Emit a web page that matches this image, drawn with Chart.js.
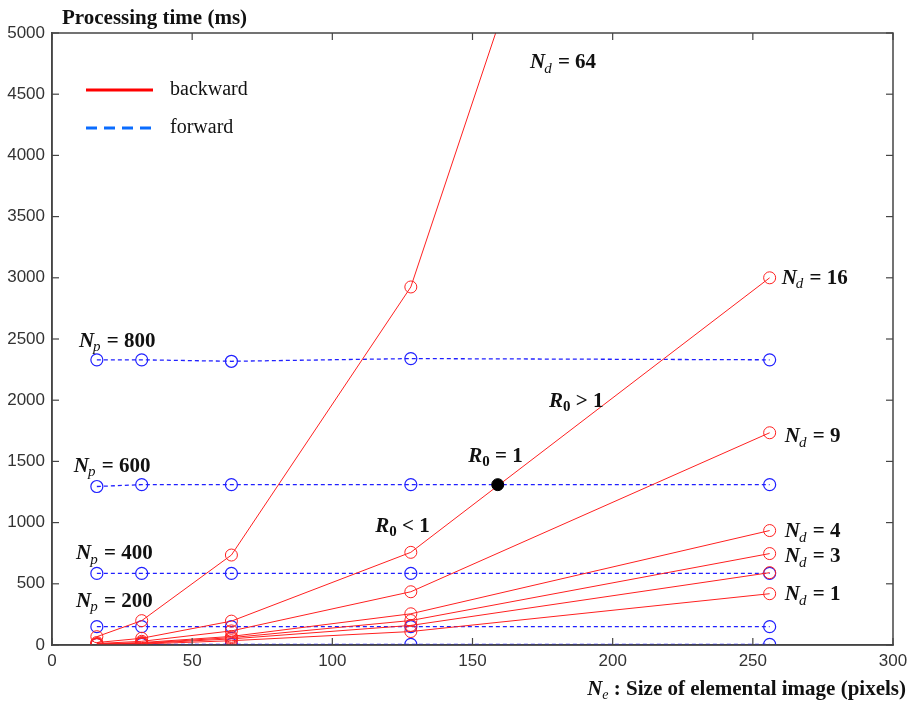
<!DOCTYPE html>
<html>
<head>
<meta charset="utf-8">
<script src="https://cdn.jsdelivr.net/npm/chart.js@4/dist/chart.umd.min.js"></script>
<style>
html,body{margin:0;padding:0;background:#fff;}
#wrap{position:relative;width:909px;height:707px;}
</style>
</head>
<body>
<div id="wrap"><canvas id="c" width="909" height="707"></canvas></div>
<script>
// Elemental image sizes (x)
const sizes = [16, 32, 64, 128, 256];
// Backward processing time (ms) per N_d
const backNd64 = [68, 199, 735, 2925, 11700];
const backNd16 = [20, 55, 195, 757, 3000];
const backNd9  = [12, 30, 115, 435, 1734];
const backNd4  = [8, 20, 70, 255, 935];
const backNd3  = [6, 15, 60, 200, 747];
const backNd2  = [5, 12, 50, 160, 591];
const backNd1  = [3, 8, 35, 110, 419];
// Forward processing time (ms) per N_p
const fwdNp800 = [2330, 2330, 2318, 2340, 2330];
const fwdNp600 = [1295, 1310, 1310, 1310, 1310];
const fwdNp400 = [585, 585, 585, 585, 585];
const fwdNp200 = [150, 150, 150, 150, 150];
const fwdNp0   = [5, 5, 5, 5, 5];
// R0 = 1 crossing point
const r0Point = [{x: 159, y: 1310}];
// Axis ticks
const xTicks = [0, 50, 100, 150, 200, 250, 300];
const yTicks = [0, 500, 1000, 1500, 2000, 2500, 3000, 3500, 4000, 4500, 5000];

const RED = '#ff2020';
const BLUE = '#2020ff';

function pts(arr){ return sizes.map((s,i)=>({x:s,y:arr[i]})); }
function redDs(arr){
  return {data: pts(arr), borderColor: RED, borderWidth: 1, pointRadius: 6, pointBorderWidth: 1,
    pointBorderColor: RED, pointBackgroundColor: 'rgba(0,0,0,0)', showLine: true, tension: 0};
}
function blueDs(arr){
  return {data: pts(arr), borderColor: BLUE, borderWidth: 1.3, borderDash: [4,3], pointRadius: 6, pointBorderWidth: 1.2,
    pointBorderColor: BLUE, pointBackgroundColor: 'rgba(0,0,0,0)', showLine: true, tension: 0};
}

// text annotations: [kind, main, sub, rest, xData, yData]
const annotations = [
  ['N','N','d',' = 64', 170.5, 4757],
  ['N','N','d',' = 16', 260.3, 2996],
  ['N','N','d',' = 9', 261.4, 1700],
  ['N','N','d',' = 4', 261.4, 924],
  ['N','N','d',' = 3', 261.4, 720],
  ['N','N','d',' = 1', 261.4, 409],
  ['N','N','p',' = 800', 9.6, 2480],
  ['N','N','p',' = 600', 7.8, 1460],
  ['N','N','p',' = 400', 8.6, 745],
  ['N','N','p',' = 200', 8.6, 355],
  ['R','R','0',' > 1', 177.3, 1990],
  ['R','R','0',' = 1', 148.5, 1540],
  ['R','R','0',' < 1', 115.3, 970]
];

const SERIF = '"Liberation Serif", "Times New Roman", serif';

const deco = {
  id: 'deco',
  afterDraw(chart){
    const ctx = chart.ctx, a = chart.chartArea, xs = chart.scales.x, ys = chart.scales.y;
    ctx.save();
    // box
    ctx.strokeStyle = '#454545'; ctx.lineWidth = 1.5;
    ctx.strokeRect(a.left, a.top, a.right - a.left, a.bottom - a.top);
    // inward ticks
    ctx.lineWidth = 1.2;
    xTicks.forEach(v=>{
      const p = xs.getPixelForValue(v);
      ctx.beginPath(); ctx.moveTo(p, a.bottom); ctx.lineTo(p, a.bottom-7); ctx.stroke();
      ctx.beginPath(); ctx.moveTo(p, a.top); ctx.lineTo(p, a.top+7); ctx.stroke();
    });
    yTicks.forEach(v=>{
      const p = ys.getPixelForValue(v);
      ctx.beginPath(); ctx.moveTo(a.left, p); ctx.lineTo(a.left+7, p); ctx.stroke();
      ctx.beginPath(); ctx.moveTo(a.right, p); ctx.lineTo(a.right-7, p); ctx.stroke();
    });
    // legend
    ctx.setLineDash([]);
    ctx.strokeStyle = '#ff0000'; ctx.lineWidth = 3;
    ctx.beginPath(); ctx.moveTo(86, 90); ctx.lineTo(153, 90); ctx.stroke();
    ctx.strokeStyle = '#0a6cff'; ctx.setLineDash([11,7]);
    ctx.beginPath(); ctx.moveTo(86, 128); ctx.lineTo(153, 128); ctx.stroke();
    ctx.setLineDash([]);
    ctx.fillStyle = '#111';
    ctx.textBaseline = 'middle';
    ctx.font = '20px ' + SERIF;
    ctx.fillText('backward', 170, 90);
    ctx.fillText('forward', 170, 128);
    // titles
    ctx.font = 'bold 21px ' + SERIF;
    ctx.fillText('Processing time (ms)', 62, 19);
    // x title
    ctx.textAlign = 'left';
    const xt1 = 'N', xt2 = 'e', xt3 = ' : Size of elemental image (pixels)';
    ctx.font = 'bold italic 21px ' + SERIF; const w1 = ctx.measureText(xt1).width;
    ctx.font = 'italic 14px ' + SERIF; const w2 = ctx.measureText(xt2).width;
    ctx.font = 'bold 21px ' + SERIF; const w3 = ctx.measureText(xt3).width;
    let sx = 906 - (w1 + w2 + w3);
    const yb = 690;
    ctx.font = 'bold italic 21px ' + SERIF; ctx.fillText(xt1, sx, yb); sx += w1;
    ctx.font = 'italic 14px ' + SERIF; ctx.fillText(xt2, sx, yb + 5); sx += w2;
    ctx.font = 'bold 21px ' + SERIF; ctx.fillText(xt3, sx, yb);
    // annotations
    annotations.forEach(an=>{
      let px = xs.getPixelForValue(an[4]);
      const py = ys.getPixelForValue(an[5]);
      ctx.font = 'bold italic 21px ' + SERIF; ctx.fillText(an[1], px, py); px += ctx.measureText(an[1]).width;
      if (an[0] === 'N') { ctx.font = 'italic 15px ' + SERIF; }
      else { ctx.font = 'bold 15px ' + SERIF; }
      ctx.fillText(an[2], px - (an[0]==='N'?1:0), py + 6); px += ctx.measureText(an[2]).width;
      ctx.font = 'bold 21px ' + SERIF; ctx.fillText(an[3], px, py);
    });
    ctx.restore();
  }
};

const tickFont = {family: '"Liberation Sans", Arial, sans-serif', size: 17};

new Chart(document.getElementById('c'), {
  type: 'scatter',
  data: {
    datasets: [
      redDs(backNd64), redDs(backNd16), redDs(backNd9), redDs(backNd4), redDs(backNd3), redDs(backNd2), redDs(backNd1),
      blueDs(fwdNp800), blueDs(fwdNp600), blueDs(fwdNp400), blueDs(fwdNp200), blueDs(fwdNp0),
      {data: r0Point, pointRadius: 6, pointBackgroundColor: '#000', pointBorderColor: '#000', showLine: false, order: -1}
    ]
  },
  options: {
    responsive: false,
    animation: false,
    devicePixelRatio: 1,
    layout: {padding: {top: 33, right: 16, left: 0, bottom: 0}},
    plugins: {legend: {display: false}, tooltip: {enabled: false}},
    scales: {
      x: {
        type: 'linear', min: 0, max: 300,
        afterBuildTicks(s){ s.ticks = xTicks.map(v=>({value:v})); },
        afterFit(s){ s.height = 62; s.paddingLeft = 0; s.paddingRight = 0; },
        grid: {display: false, drawTicks: false},
        border: {display: true, color: '#454545', width: 1.5},
        ticks: {color: '#333', font: tickFont, padding: 6, maxRotation: 0, callback: v => String(v)}
      },
      y: {
        type: 'linear', min: 0, max: 5000,
        afterBuildTicks(s){ s.ticks = yTicks.map(v=>({value:v})); },
        afterFit(s){ s.width = 52; s.paddingTop = 0; s.paddingBottom = 0; },
        grid: {display: false, drawTicks: false},
        border: {display: true, color: '#454545', width: 1.5},
        ticks: {color: '#333', font: tickFont, padding: 7, callback: v => String(v)}
      }
    }
  },
  plugins: [deco]
});
</script>
</body>
</html>
